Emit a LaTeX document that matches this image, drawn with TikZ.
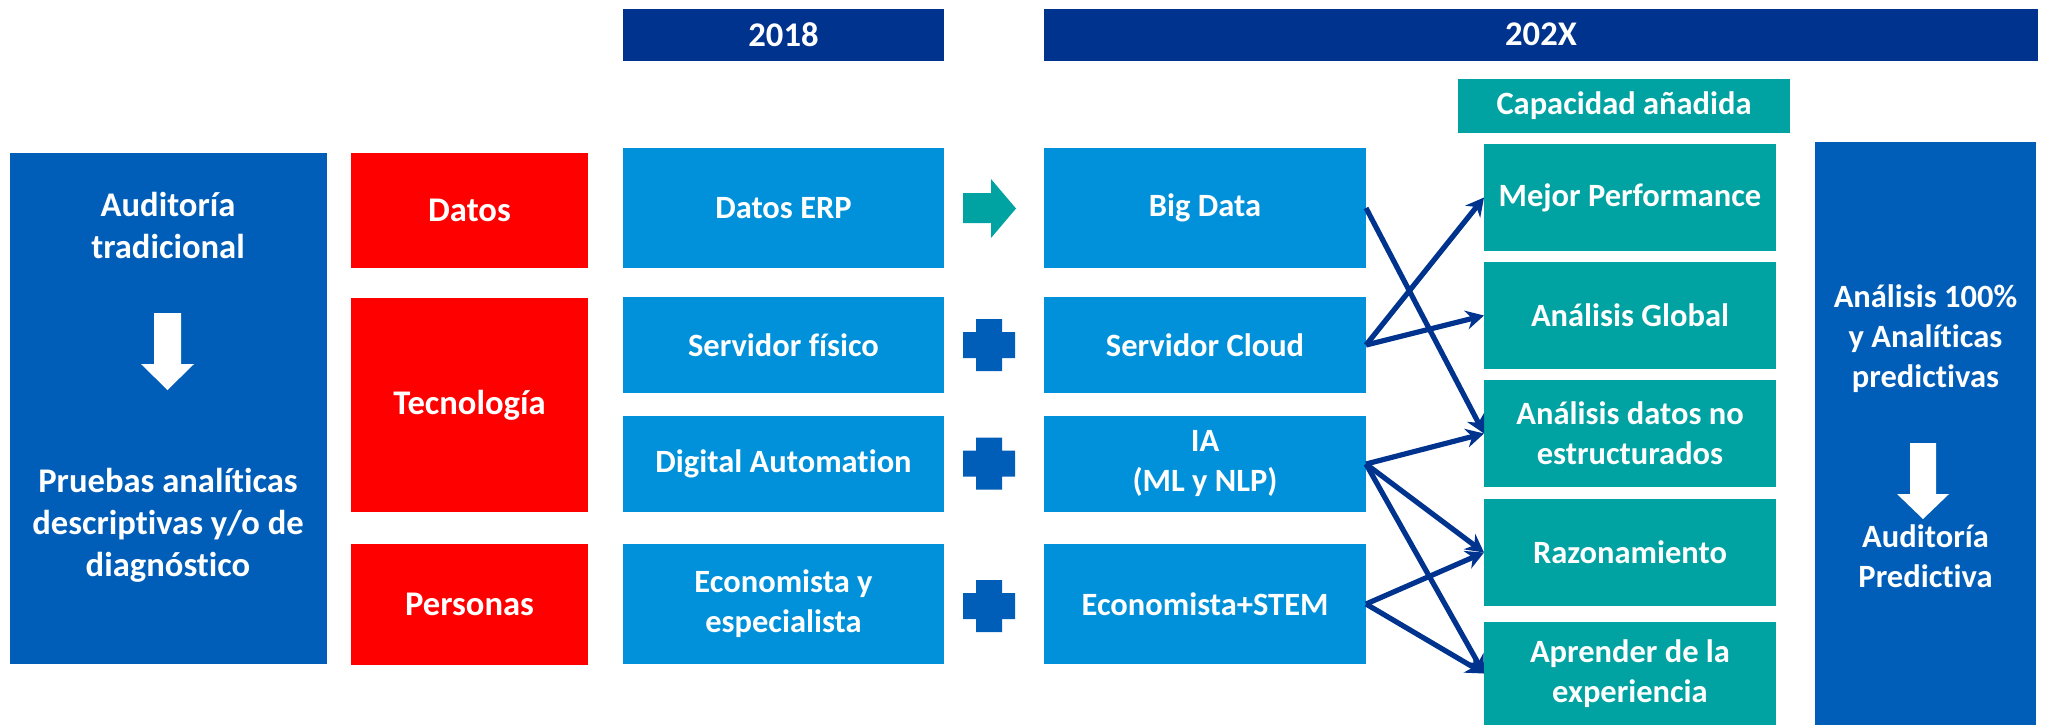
\documentclass[tikz,border=0pt]{standalone}
\usepackage{fontspec}
\setmainfont{Carlito}[Ligatures=NoCommon]
\usetikzlibrary{arrows.meta}

\definecolor{kdark}{HTML}{00338D}
\definecolor{kmid}{HTML}{005EB8}
\definecolor{klight}{HTML}{0091DA}
\definecolor{kteal}{HTML}{00A3A1}
\definecolor{kred}{HTML}{FF0000}

\begin{document}
\begin{tikzpicture}[x=0.5pt, y=-0.5pt,
    box/.style={inner sep=0pt, outer sep=0pt, text=white, align=center,
      font=\bfseries\fontsize{16.25}{20}\selectfont},
    bigbox/.style={box, font=\bfseries\fontsize{17.3}{21}\selectfont},
    hdr/.style={bigbox, fill=kdark, minimum height=26pt},
    cat/.style={bigbox, fill=kred, minimum width=118.5pt},
    old/.style={box, fill=klight, minimum width=160.5pt},
    new/.style={box, fill=klight, minimum width=161pt},
    gain/.style={box, fill=kteal, minimum width=146pt, minimum height=53.5pt},
    flow/.style={draw=kdark, line width=2.6pt, -{Stealth[length=9pt, width=9.5pt]}}]

    \useasboundingbox (0,0) rectangle (2045,725);

    % year headers
    \node[hdr, minimum width=160.5pt] (y18) at (783.5,34.5) {2018};
    \node[hdr, minimum width=497pt] (y2x) at (1541,34.5) {202X};

    % left column
    \node[box, fill=kmid, minimum width=158.5pt, minimum height=255.5pt] (trad) at (168.5,408.5) {};
    \node[bigbox] (tradA) at (168,225) {Auditoría\\tradicional};
    \node[bigbox] (tradB) at (168,525) {Pruebas analíticas\\descriptivas y/o de\\diagnóstico};
    \fill[white] (154,313) -- (181,313) -- (181,364) -- (194,364) -- (167.5,390)
        -- (141,364) -- (154,364) -- cycle;

    % categories
    \node[cat, minimum height=57.5pt] (datos) at (469.5,210.5) {Datos};
    \node[cat, minimum height=107pt] (tec) at (469.5,405) {Tecnología};
    \node[cat, minimum height=60.5pt] (pers) at (469.5,604.5) {Personas};

    % 2018
    \node[old, minimum height=60pt] (erp) at (783.5,208) {Datos ERP};
    \node[old, minimum height=48pt] (fis) at (783.5,345) {Servidor físico};
    \node[old, minimum height=48pt] (auto) at (783.5,464) {Digital Automation};
    \node[old, minimum height=60pt] (econ) at (783.5,604) {Economista y\\especialista};

    % 202X
    \node[new, minimum height=60pt] (bigd) at (1205,208) {Big Data};
    \node[new, minimum height=48pt] (cloud) at (1205,345) {Servidor Cloud};
    \node[new, minimum height=48pt] (ia) at (1205,464) {IA\\(ML y NLP)};
    \node[new, minimum height=60pt] (stem) at (1205,604) {Economista+STEM};

    % arrow and plus signs between columns
    \fill[kteal] (963,193) -- (991,193) -- (991,179) -- (1016,208.5) -- (991,238)
        -- (991,223) -- (963,223) -- cycle;
    \foreach \y in {345,463.5,606}
      \fill[kmid, shift={(989,\y)}] (-13,-26) -- (13,-26) -- (13,-13) -- (26,-13)
          -- (26,13) -- (13,13) -- (13,26) -- (-13,26) -- (-13,13) -- (-26,13)
          -- (-26,-13) -- (-13,-13) -- cycle;

    % added capacity
    \node[box, fill=kteal, minimum width=166pt, minimum height=27pt] (cap) at (1624,106) {Capacidad añadida};
    \node[gain] (perf) at (1630,197.5) {Mejor Performance};
    \node[gain] (glob) at (1630,315.5) {Análisis Global};
    \node[gain] (nostr) at (1630,433.5) {Análisis datos no\\estructurados};
    \node[gain] (razon) at (1630,552.5) {Razonamiento};
    \node[gain, minimum height=51.5pt] (aprend) at (1630,673.5) {Aprender de la\\experiencia};

    % right column
    \node[box, fill=kmid, minimum width=110.5pt, minimum height=291.5pt] (pred) at (1925.5,433.5) {};
    \node[box] (predA) at (1925.5,339) {Análisis 100\%\\y Analíticas\\predictivas};
    \node[box] (predB) at (1925.5,556) {Auditoría\\Predictiva};
    \fill[white] (1910,443) -- (1936,443) -- (1936,494) -- (1949,494) -- (1923,519)
        -- (1897,494) -- (1910,494) -- cycle;

    % links
    \draw[flow] (bigd.east) -- (nostr.west);
    \draw[flow] (cloud.east) -- (perf.west);
    \draw[flow] (cloud.east) -- (glob.west);
    \draw[flow] (ia.east) -- (nostr.west);
    \draw[flow] (ia.east) -- (razon.west);
    \draw[flow] (ia.east) -- (aprend.west);
    \draw[flow] (stem.east) -- (razon.west);
    \draw[flow] (stem.east) -- (aprend.west);

\end{tikzpicture}
\end{document}
